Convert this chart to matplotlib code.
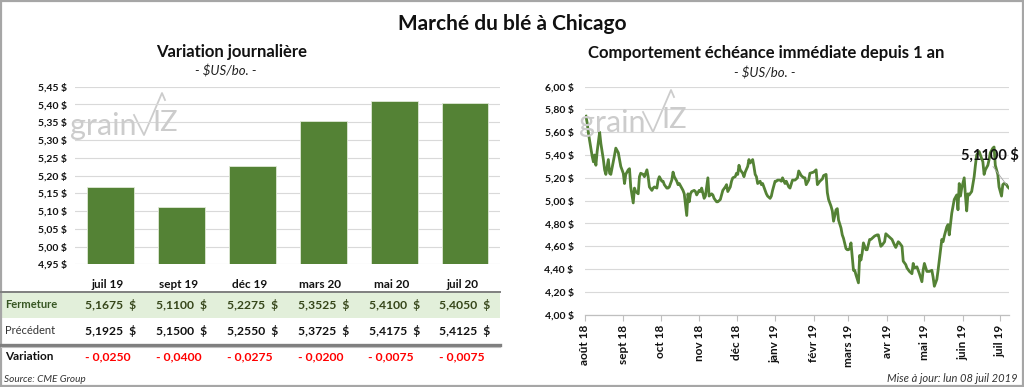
import matplotlib
matplotlib.use("Agg")
import matplotlib.pyplot as plt
import matplotlib.transforms as mtransforms
from matplotlib.lines import Line2D
from matplotlib.patches import Rectangle
from matplotlib.ticker import FuncFormatter
import pandas as pd

plt.rcParams['font.family'] = ['Lato', 'DejaVu Sans']

# ---------------- data ----------------
contracts = ["juil 19", "sept 19", "déc 19", "mars 20", "mai 20", "juil 20"]
fermeture = [5.1675, 5.1100, 5.2275, 5.3525, 5.4100, 5.4050]
precedent = [5.1925, 5.1500, 5.2550, 5.3725, 5.4175, 5.4125]
variation = [-0.0250, -0.0400, -0.0275, -0.0200, -0.0075, -0.0075]
left_yticks = [4.95, 5.00, 5.05, 5.10, 5.15, 5.20, 5.25, 5.30, 5.35, 5.40, 5.45]

right_yticks = [4.00, 4.20, 4.40, 4.60, 4.80, 5.00, 5.20, 5.40, 5.60, 5.80, 6.00]
month_ticks = ["2018-08-01", "2018-09-01", "2018-10-01", "2018-11-01", "2018-12-01",
               "2019-01-01", "2019-02-01", "2019-03-01", "2019-04-01", "2019-05-01",
               "2019-06-01", "2019-07-01"]
month_labels = ["août 18", "sept 18", "oct 18", "nov 18", "déc 18", "janv 19",
                "févr 19", "mars 19", "avr 19", "mai 19", "juin 19", "juil 19"]

line_dates = [
    "2018-08-02", "2018-08-03", "2018-08-04", "2018-08-06", "2018-08-07", "2018-08-08",
    "2018-08-09", "2018-08-10", "2018-08-11", "2018-08-13", "2018-08-14", "2018-08-16",
    "2018-08-17", "2018-08-18", "2018-08-20", "2018-08-21", "2018-08-22", "2018-08-24",
    "2018-08-25", "2018-08-26", "2018-08-28", "2018-08-29", "2018-08-30", "2018-09-01",
    "2018-09-02", "2018-09-03", "2018-09-05", "2018-09-06", "2018-09-07", "2018-09-09",
    "2018-09-10", "2018-09-11", "2018-09-13", "2018-09-14", "2018-09-15", "2018-09-17",
    "2018-09-18", "2018-09-20", "2018-09-21", "2018-09-22", "2018-09-24", "2018-09-25",
    "2018-09-26", "2018-09-28", "2018-09-29", "2018-09-30", "2018-10-02", "2018-10-03",
    "2018-10-04", "2018-10-06", "2018-10-07", "2018-10-08", "2018-10-10", "2018-10-11",
    "2018-10-12", "2018-10-14", "2018-10-15", "2018-10-16", "2018-10-18", "2018-10-19",
    "2018-10-20", "2018-10-22",
    "2018-10-23", "2018-10-24", "2018-10-25", "2018-10-26", "2018-10-28", "2018-10-29",
    "2018-10-30", "2018-11-01", "2018-11-02", "2018-11-03", "2018-11-05", "2018-11-06",
    "2018-11-07", "2018-11-08", "2018-11-09", "2018-11-11", "2018-11-12", "2018-11-13",
    "2018-11-15", "2018-11-16", "2018-11-18", "2018-11-19", "2018-11-20", "2018-11-22",
    "2018-11-23", "2018-11-24", "2018-11-26", "2018-11-27", "2018-11-28", "2018-11-30",
    "2018-12-01", "2018-12-02", "2018-12-03", "2018-12-04", "2018-12-06", "2018-12-07",
    "2018-12-08", "2018-12-10", "2018-12-11", "2018-12-12", "2018-12-14", "2018-12-15",
    "2018-12-16", "2018-12-17", "2018-12-18", "2018-12-20", "2018-12-21", "2018-12-22",
    "2018-12-24", "2018-12-25", "2018-12-26", "2018-12-28", "2018-12-29", "2018-12-30",
    "2019-01-01", "2019-01-02", "2019-01-03", "2019-01-05", "2019-01-06", "2019-01-07",
    "2019-01-09", "2019-01-10", "2019-01-12",
    "2019-01-13", "2019-01-15", "2019-01-17", "2019-01-19", "2019-01-20", "2019-01-22",
    "2019-01-24", "2019-01-25", "2019-01-26", "2019-01-28", "2019-01-29", "2019-02-01",
    "2019-02-03", "2019-02-04", "2019-02-06", "2019-02-08", "2019-02-09", "2019-02-11",
    "2019-02-12", "2019-02-13", "2019-02-15", "2019-02-16", "2019-02-17", "2019-02-19",
    "2019-02-20", "2019-02-21", "2019-02-23", "2019-02-24", "2019-02-25", "2019-02-27",
    "2019-02-28", "2019-03-01", "2019-03-02", "2019-03-03", "2019-03-05", "2019-03-06",
    "2019-03-07", "2019-03-09", "2019-03-10", "2019-03-11", "2019-03-12", "2019-03-13",
    "2019-03-15", "2019-03-16", "2019-03-18", "2019-03-19", "2019-03-21", "2019-03-22",
    "2019-03-24", "2019-03-25", "2019-03-27", "2019-03-28", "2019-03-30", "2019-03-31",
    "2019-04-02", "2019-04-04", "2019-04-05", "2019-04-07", "2019-04-08",
    "2019-04-10", "2019-04-11", "2019-04-13", "2019-04-14", "2019-04-16", "2019-04-17",
    "2019-04-19", "2019-04-21", "2019-04-22", "2019-04-23", "2019-04-25", "2019-04-26",
    "2019-04-27", "2019-04-29", "2019-04-30", "2019-05-01", "2019-05-03", "2019-05-04",
    "2019-05-05", "2019-05-07", "2019-05-08", "2019-05-09", "2019-05-11", "2019-05-12",
    "2019-05-13", "2019-05-15", "2019-05-16", "2019-05-17", "2019-05-19", "2019-05-20",
    "2019-05-21", "2019-05-23", "2019-05-24", "2019-05-25", "2019-05-27", "2019-05-28",
    "2019-05-29", "2019-05-30", "2019-05-31", "2019-06-02", "2019-06-03", "2019-06-04",
    "2019-06-05", "2019-06-06", "2019-06-08", "2019-06-10", "2019-06-11", "2019-06-12",
    "2019-06-14", "2019-06-15", "2019-06-17", "2019-06-18", "2019-06-19", "2019-06-21",
    "2019-06-22", "2019-06-23", "2019-06-25", "2019-06-26", "2019-06-27", "2019-06-29",
    "2019-06-30", "2019-07-02", "2019-07-03", "2019-07-04", "2019-07-06", "2019-07-07",
    "2019-07-08",
]
line_values = [
    5.74, 5.68, 5.59, 5.46, 5.39, 5.34, 5.40, 5.31, 5.43, 5.60, 5.50, 5.36,
    5.27, 5.23, 5.36, 5.24, 5.23, 5.34, 5.40, 5.46, 5.42, 5.36, 5.30, 5.24,
    5.15, 5.23, 5.27, 5.28, 5.12, 4.98, 5.11, 5.08, 5.06, 5.21, 5.24, 5.23,
    5.21, 5.27, 5.21, 5.12, 5.09, 5.11, 5.12, 5.11, 5.18, 5.21, 5.17, 5.17,
    5.14, 5.11, 5.11, 5.12, 5.18, 5.25, 5.21, 5.17, 5.14, 5.15, 5.11, 5.09,
    5.06, 4.87,
    5.06, 4.99, 5.06, 5.08, 5.09, 5.08, 5.05, 5.09, 5.08, 5.11, 5.02, 5.04,
    5.12, 5.20, 5.04, 5.06, 5.05, 5.02, 4.99, 4.99, 5.01, 5.05, 5.09, 5.12,
    5.14, 5.08, 5.12, 5.17, 5.20, 5.21, 5.24, 5.23, 5.31, 5.27, 5.24, 5.21,
    5.25, 5.30, 5.36, 5.33, 5.36, 5.30, 5.23, 5.21, 5.15, 5.17, 5.14, 5.15,
    5.09, 5.06, 5.04, 5.02, 5.04, 5.09, 5.17, 5.17, 5.18, 5.18, 5.17, 5.20,
    5.15, 5.17, 5.12,
    5.11, 5.18, 5.18, 5.20, 5.26, 5.22, 5.20, 5.20, 5.14, 5.18, 5.24, 5.25,
    5.27, 5.14, 5.17, 5.19, 5.22, 5.23, 5.07, 5.01, 4.95, 4.91, 4.82, 4.92,
    4.93, 4.83, 4.76, 4.70, 4.67, 4.58, 4.57, 4.57, 4.58, 4.63, 4.39, 4.39,
    4.35, 4.28, 4.52, 4.48, 4.54, 4.63, 4.57, 4.57, 4.66, 4.66, 4.68, 4.69,
    4.70, 4.70, 4.60, 4.61, 4.64, 4.71, 4.69, 4.67, 4.66, 4.61, 4.59,
    4.64, 4.63, 4.60, 4.47, 4.44, 4.41, 4.38, 4.36, 4.45, 4.41, 4.42, 4.39,
    4.36, 4.29, 4.39, 4.45, 4.38, 4.38, 4.38, 4.39, 4.33, 4.25, 4.31, 4.39,
    4.48, 4.66, 4.64, 4.69, 4.77, 4.79, 4.70, 4.89, 4.95, 5.01, 5.05, 4.92,
    5.15, 5.04, 5.11, 5.20, 5.04, 4.91, 5.06, 5.05, 5.08, 5.21, 5.31, 5.40,
    5.43, 5.40, 5.34, 5.23, 5.27, 5.31, 5.36, 5.42, 5.46, 5.47, 5.31, 5.23,
    5.12, 5.04, 5.14, 5.15, 5.14, 5.12, 5.11,
]

# ---------------- figure ----------------
W, H = 1024, 387
fig = plt.figure(figsize=(W / 100, H / 100), dpi=100)
fig.patch.set_facecolor('white')


def fx(x):
    return x / W


def fy(y):
    return 1 - y / H


GREEN = '#548235'
GRID = '#d9d9d9'

# outer frame
fig.add_artist(Rectangle((0.001, 0.002), 0.998, 0.996, transform=fig.transFigure,
                         fill=False, edgecolor='#a6a6a6', lw=1.6))

# titles
fig.text(fx(512), fy(24), "Marché du blé à Chicago", ha='center', va='center',
         fontsize=15, fontweight='bold', color='#111111')
fig.text(fx(232), fy(52), "Variation journalière", ha='center', va='center',
         fontsize=12, fontweight='bold', color='#111111')
fig.text(fx(226), fy(71), "- $US/bo. -", ha='center', va='center',
         fontsize=9.5, style='italic', color='#222222')
fig.text(fx(766), fy(53), "Comportement échéance immédiate depuis 1 an", ha='center',
         va='center', fontsize=12, fontweight='bold', color='#111111')
fig.text(fx(765), fy(73), "- $US/bo. -", ha='center', va='center',
         fontsize=9.5, style='italic', color='#222222')


def watermark(dx, dy):
    wm = '#cccccc'
    fig.text(fx(70 + dx), fy(135 + dy), "grain", ha='left', va='baseline',
             fontsize=22, color=wm, zorder=0)
    fig.text(fx(152 + dx), fy(131 + dy), "IZ", ha='left', va='baseline',
             fontsize=21, color=wm, zorder=0)
    xs = [134 + dx, 144 + dx, 162 + dx, 165 + dx]
    ys = [115 + dy, 135 + dy, 93 + dy, 100 + dy]
    fig.add_artist(Line2D([fx(v) for v in xs], [fy(v) for v in ys],
                          transform=fig.transFigure, color=wm, lw=1.3, zorder=0))


watermark(0, 0)
watermark(509, -3)


def money(v, nd=2):
    return f"{v:.{nd}f} $".replace('.', ',')


# ---------------- left bar chart ----------------
axL = fig.add_axes([fx(75.4), fy(264.3), (500.4 - 75.4) / W, (264.3 - 86.7) / H])
axL.patch.set_alpha(0)
xpos = list(range(len(contracts)))
axL.bar(xpos, fermeture, width=0.66, color=GREEN, edgecolor='#dfe9d6',
        linewidth=0.6, zorder=3)
axL.set_xlim(-0.5, len(contracts) - 0.5)
axL.set_ylim(left_yticks[0], left_yticks[-1])
axL.set_yticks(left_yticks)
axL.yaxis.set_major_formatter(FuncFormatter(lambda v, p: money(v)))
axL.set_xticks([])
axL.grid(axis='y', color=GRID, lw=0.8, zorder=0)
axL.set_axisbelow(True)
for s in axL.spines.values():
    s.set_visible(False)
axL.tick_params(axis='y', length=0, pad=6, labelsize=7.5, labelcolor='#111111')
for lab in axL.get_yticklabels():
    lab.set_fontweight('bold')

# table under the bar chart
tr = mtransforms.blended_transform_factory(axL.transData, fig.transFigure)
shift = mtransforms.ScaledTranslation(-3 / 100, 0, fig.dpi_scale_trans)
fig.add_artist(Rectangle((fx(1), fy(318)), fx(500) - fx(1), (318 - 292) / H,
                         transform=fig.transFigure, facecolor='#e2efda',
                         edgecolor='none', zorder=0))
fig.add_artist(Line2D([fx(1), fx(500)], [fy(292), fy(292)], transform=fig.transFigure,
                      color='#7f7f7f', lw=1.4))
fig.add_artist(Line2D([fx(1), fx(500)], [fy(344.5), fy(344.5)], transform=fig.transFigure,
                      color='#7f7f7f', lw=2.4))
fig.add_artist(Line2D([fx(1), fx(500)], [fy(347), fy(347)], transform=fig.transFigure,
                      color='#bfbfbf', lw=0.8))

for i, c in enumerate(contracts):
    fig.text(i, fy(284), c, transform=tr + shift, ha='center', va='center',
             fontsize=8.5, fontweight='bold', color='#111111')
    fig.text(i, fy(305), money(fermeture[i], 4).replace(' $', '  $'), transform=tr,
             ha='center', va='center', fontsize=8.7, fontweight='bold', color='#36461a')
    fig.text(i, fy(331), money(precedent[i], 4).replace(' $', '  $'), transform=tr,
             ha='center', va='center', fontsize=8.7, fontweight='bold', color='#111111')
    vtxt = ("- " if variation[i] < 0 else "") + f"{abs(variation[i]):.4f}".replace('.', ',')
    fig.text(i, fy(357), vtxt, transform=tr + shift, ha='center', va='center',
             fontsize=8.7, fontweight='bold', color='#ff0000')

fig.text(fx(5), fy(305), "Fermeture", ha='left', va='center', fontsize=8,
         fontweight='bold', color='#375623')
fig.text(fx(5), fy(331), "Précédent", ha='left', va='center', fontsize=8,
         color='#333333')
fig.text(fx(5), fy(357), "Variation", ha='left', va='center', fontsize=8.5,
         fontweight='bold', color='#111111')
fig.text(fx(4), fy(379), "Source: CME Group", ha='left', va='center', fontsize=7.2,
         style='italic', color='#333333')

# ---------------- right line chart ----------------
axR = fig.add_axes([fx(584.7), fy(314.8), (1009 - 584.7) / W, (314.8 - 86.5) / H])
axR.patch.set_alpha(0)
dates = pd.to_datetime(line_dates)
axR.plot(dates, line_values, color=GREEN, lw=2.0, solid_joinstyle='round', zorder=3)
axR.set_xlim(pd.Timestamp("2018-08-01"), pd.Timestamp("2019-07-08"))
axR.set_ylim(right_yticks[0], right_yticks[-1])
axR.set_yticks(right_yticks)
axR.yaxis.set_major_formatter(FuncFormatter(lambda v, p: money(v)))
axR.set_xticks(pd.to_datetime(month_ticks))
axR.set_xticklabels(month_labels, rotation=90)
axR.grid(axis='y', color=GRID, lw=0.8, zorder=0)
axR.set_axisbelow(True)
for k, s in axR.spines.items():
    s.set_visible(k == 'bottom')
axR.spines['bottom'].set_color('#bfbfbf')
axR.spines['bottom'].set_linewidth(0.9)
axR.tick_params(axis='y', length=0, pad=8, labelsize=7.5, labelcolor='#111111')
axR.tick_params(axis='x', length=4, width=0.8, color='#bfbfbf', pad=3,
                labelsize=8.5, labelcolor='#111111')
for lab in axR.get_yticklabels() + axR.get_xticklabels():
    lab.set_fontweight('bold')

last_d, last_v = dates[-1], line_values[-1]
axR.annotate(money(last_v, 4), xy=(last_d, last_v), xycoords='data',
             xytext=(1019, H - 155), textcoords='figure pixels',
             ha='right', va='center', fontsize=10.5, fontweight='bold', color='#111111',
             arrowprops=dict(arrowstyle='-', color='#a6a6a6', lw=0.6,
                             shrinkA=1, shrinkB=3, relpos=(0.5, 0.0)),
             annotation_clip=False)

fig.text(fx(1018), fy(379), "Mise à jour: lun 08 juil 2019", ha='right', va='center',
         fontsize=8, style='italic', color='#333333')

fig.savefig("out.png", dpi=100, facecolor='white')
